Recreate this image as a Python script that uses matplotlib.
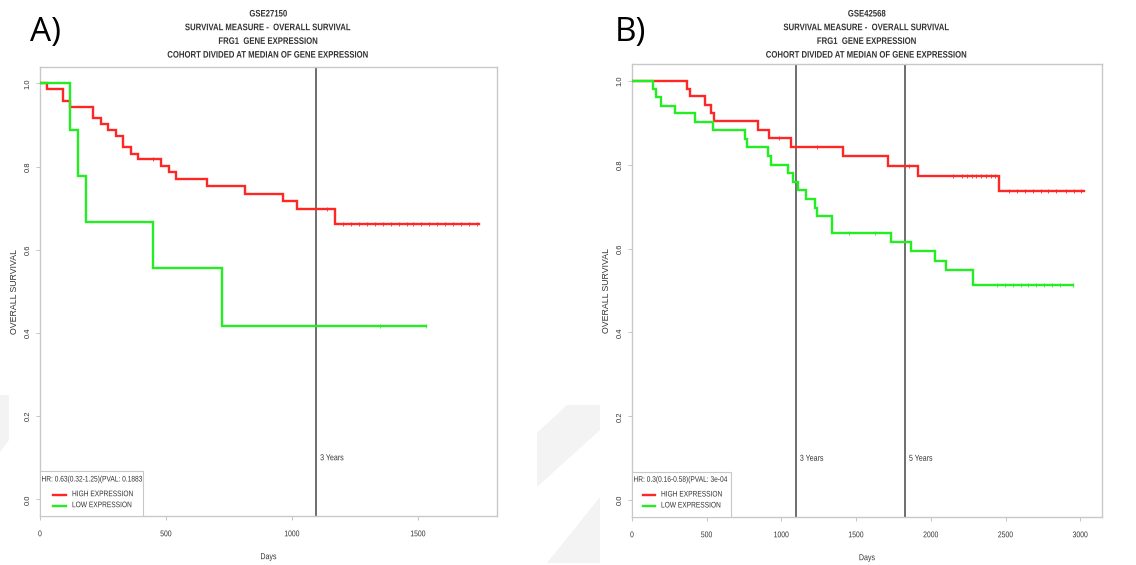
import numpy as np
import matplotlib
matplotlib.use("Agg")
import matplotlib.pyplot as plt
from matplotlib.patches import Rectangle, Polygon
from matplotlib.lines import Line2D
from matplotlib.patheffects import AbstractPathEffect
from matplotlib.transforms import Affine2D

# ---------------- data ----------------
# Panel A (GSE27150)
a_high_t = [0, 29, 90, 119, 209, 241, 271, 300, 331, 360, 390, 480, 511, 540, 661, 813, 963, 1021, 1171]
a_high_s = [1.0, 0.986, 0.958, 0.944, 0.916, 0.902, 0.888, 0.874, 0.846, 0.831, 0.818, 0.802, 0.787, 0.771,
            0.754, 0.735, 0.717, 0.699, 0.663]
a_high_end = 1742
a_high_cens = [450, 1140, 1203, 1234, 1266, 1298, 1329, 1361, 1393, 1424, 1456, 1481, 1513, 1545, 1576,
               1608, 1640, 1671, 1703, 1735]
a_low_t = [0, 119, 149, 181, 450, 721]
a_low_s = [1.0, 0.889, 0.778, 0.667, 0.556, 0.417]
a_low_end = 1532
a_low_cens = [1349, 1532]

# Panel B (GSE42568)
b_high_t = [0, 366, 388, 489, 529, 551, 846, 920, 1063, 1415, 1710, 1917, 2458]
b_high_s = [1.0, 0.981, 0.963, 0.943, 0.923, 0.903, 0.883, 0.863, 0.842, 0.820, 0.798, 0.774, 0.738]
b_high_end = 3022
b_high_cens = [982, 1237, 1854, 2148, 2211, 2242, 2274, 2305, 2337, 2368, 2400, 2431, 2525, 2578, 2630,
               2682, 2735, 2787, 2840, 2903, 2955, 3007]
b_low_t = [0, 138, 161, 194, 288, 422, 545, 757, 768, 913, 929, 1047, 1080, 1114, 1165, 1225, 1237, 1337,
           1732, 1868, 2025, 2100, 2279]
b_low_s = [1.0, 0.980, 0.961, 0.941, 0.923, 0.902, 0.882, 0.861, 0.841, 0.820, 0.800, 0.779, 0.759, 0.739,
           0.717, 0.697, 0.677, 0.637, 0.615, 0.594, 0.571, 0.548, 0.513]
b_low_end = 2951
b_low_cens = [1449, 1627, 2443, 2495, 2547, 2600, 2652, 2705, 2757, 2810, 2862, 2950]

title_a = ["GSE27150", "SURVIVAL MEASURE -  OVERALL SURVIVAL", "FRG1  GENE EXPRESSION",
           "COHORT DIVIDED AT MEDIAN OF GENE EXPRESSION"]
title_b = ["GSE42568", "SURVIVAL MEASURE -  OVERALL SURVIVAL", "FRG1  GENE EXPRESSION",
           "COHORT DIVIDED AT MEDIAN OF GENE EXPRESSION"]
hr_a = "HR: 0.63(0.32-1.25)(PVAL: 0.1883"
hr_b = "HR: 0.3(0.16-0.58)(PVAL: 3e-04"
legend_labels = ["HIGH EXPRESSION", "LOW EXPRESSION"]
year_lines_a = [(1095, "3 Years")]
year_lines_b = [(1095, "3 Years"), (1825, "5 Years")]
xticks_a = [0, 500, 1000, 1500]
xticks_b = [0, 500, 1000, 1500, 2000, 2500, 3000]
yticks = [0.0, 0.2, 0.4, 0.6, 0.8, 1.0]

RED = "#ff2626"
GREEN = "#22ee22"
TXT = "#333333"
W, H = 1136, 565
SQ = 0.82  # horizontal squeeze of text (reference text is narrow)

plt.rcParams['font.family'] = ["Liberation Sans", 'DejaVu Sans']

fig = plt.figure(figsize=(W / 100, H / 100), dpi=100)
fig.patch.set_facecolor("white")

# faint background watermark shapes
for poly in [[(567, 405), (600, 405), (600, 430), (537, 487), (537, 433)],
             [(600, 497), (600, 563), (547, 563)],
             [(0, 395), (9, 395), (9, 440), (0, 452)]]:
    fig.patches.append(Polygon([(x / W, 1 - y / H) for x, y in poly], closed=True,
                               transform=fig.transFigure, facecolor="#f3f3f3", edgecolor="none",
                               zorder=0))


class HSqueeze(AbstractPathEffect):
    """Scale text horizontally about a fixed display x (pixels)."""
    def __init__(self, sx, anchor_px):
        super().__init__()
        self.sx = sx
        self.anchor = anchor_px

    def draw_path(self, renderer, gc, tpath, affine, rgbFace=None):
        aff = affine + Affine2D().translate(-self.anchor, 0).scale(self.sx, 1).translate(self.anchor, 0)
        renderer.draw_path(gc, tpath, aff, rgbFace)


def km(ax, t, s, end, cens, color):
    t = np.asarray(t, float)
    s = np.asarray(s, float)
    xs = np.append(t, end)
    ys = np.append(s, s[-1])
    ax.step(xs, ys, where="post", color=color, lw=1.7, solid_joinstyle="miter", zorder=3)
    c = np.asarray(cens, float)
    idx = np.searchsorted(t, c, side="right") - 1
    ax.plot(c, s[idx], ls="none", marker="|", ms=3.5, mew=0.6, color=color, zorder=3)


def panel(px_rect, xmax, xticks, title, curves, years, hr, letter, letter_x, leg_geom):
    left, top, right, bottom = px_rect
    aw, ah = right - left, bottom - top
    ax = fig.add_axes([left / W, 1 - bottom / H, aw / W, ah / H])
    ax.set_xlim(0, xmax)
    ax.set_ylim(-0.04, 1.04)
    for sp in ax.spines.values():
        sp.set_color("#c8c8c8")
        sp.set_linewidth(1.0)
    ax.set_xticks(xticks)
    ax.set_yticks(yticks)
    xl = ax.set_xticklabels([str(v) for v in xticks], fontsize=6, color=TXT)
    for lab, v in zip(xl, xticks):
        lab.set_path_effects([HSqueeze(SQ, left + v / xmax * aw)])
    ax.set_yticklabels(["%.1f" % v for v in yticks], fontsize=5.5, color=TXT, rotation=90, va="center")
    ax.tick_params(axis="both", length=3, width=0.6, color="#bbbbbb")
    ax.tick_params(axis="x", pad=8)
    ax.tick_params(axis="y", pad=3)
    for (t, s, end, cens, col) in curves:
        km(ax, t, s, end, cens, col)
    for xv, lab in years:
        ax.axvline(xv, color="#555555", lw=1.2, zorder=2)
        xt = xv + xmax * 0.009
        ax.text(xt, 0.1, lab, fontsize=6.2, color=TXT, va="center", ha="left",
                path_effects=[HSqueeze(SQ, left + xt / xmax * aw)])
    ax.set_xlabel("Days", fontsize=6.2, color=TXT, labelpad=10,
                  path_effects=[HSqueeze(SQ, left + aw / 2)])
    ax.set_ylabel("OVERALL SURVIVAL", fontsize=6.3, color=TXT, labelpad=4)

    # manual legend (R style), geometry in pixels from the axes lower-left corner
    bw, bh, ty, y1, y2, lx0, lx1, tx = leg_geom
    ax.add_patch(Rectangle((0, 0), bw / aw, bh / ah, transform=ax.transAxes, facecolor="white",
                           edgecolor="#c8c8c8", lw=0.8, zorder=5))
    ax.text(1.5 / aw, ty / ah, hr, transform=ax.transAxes, fontsize=5.8, color=TXT, ha="left",
            va="center", zorder=6, path_effects=[HSqueeze(SQ, left + 1.5)])
    for yy, col, lab in [(y1, RED, legend_labels[0]), (y2, GREEN, legend_labels[1])]:
        ax.add_line(Line2D([lx0 / aw, lx1 / aw], [yy / ah, yy / ah], transform=ax.transAxes, color=col,
                           lw=1.7, zorder=6))
        ax.text(tx / aw, yy / ah, lab, transform=ax.transAxes, fontsize=5.8, color=TXT, ha="left",
                va="center", zorder=6, path_effects=[HSqueeze(SQ, left + tx)])

    # title lines
    cx = left + aw / 2
    for i, line in enumerate(title):
        fig.text(cx / W, 1 - (14 + i * 13.7) / H, line, fontsize=6.8, fontweight="bold", color=TXT,
                 ha="center", va="center", path_effects=[HSqueeze(SQ, cx)])
    fig.text(letter_x / W, 1 - 33 / H, letter, fontsize=24, color="black", ha="left", va="center",
             family=["Open Sans", "DejaVu Sans"])
    return ax


panel((40, 66.7, 497, 516), 1813, xticks_a, title_a,
      [(a_high_t, a_high_s, a_high_end, a_high_cens, RED), (a_low_t, a_low_s, a_low_end, a_low_cens, GREEN)],
      year_lines_a, hr_a, "A)", 30, (103, 45, 36, 21.3, 10.3, 13, 26, 32))
panel((632, 64, 1102, 517), 3145, xticks_b, title_b,
      [(b_high_t, b_high_s, b_high_end, b_high_cens, RED), (b_low_t, b_low_s, b_low_end, b_low_cens, GREEN)],
      year_lines_b, hr_b, "B)", 615, (99, 45, 36.7, 22, 11, 10.7, 23, 29))

fig.savefig("out.png", dpi=100, facecolor="white")
